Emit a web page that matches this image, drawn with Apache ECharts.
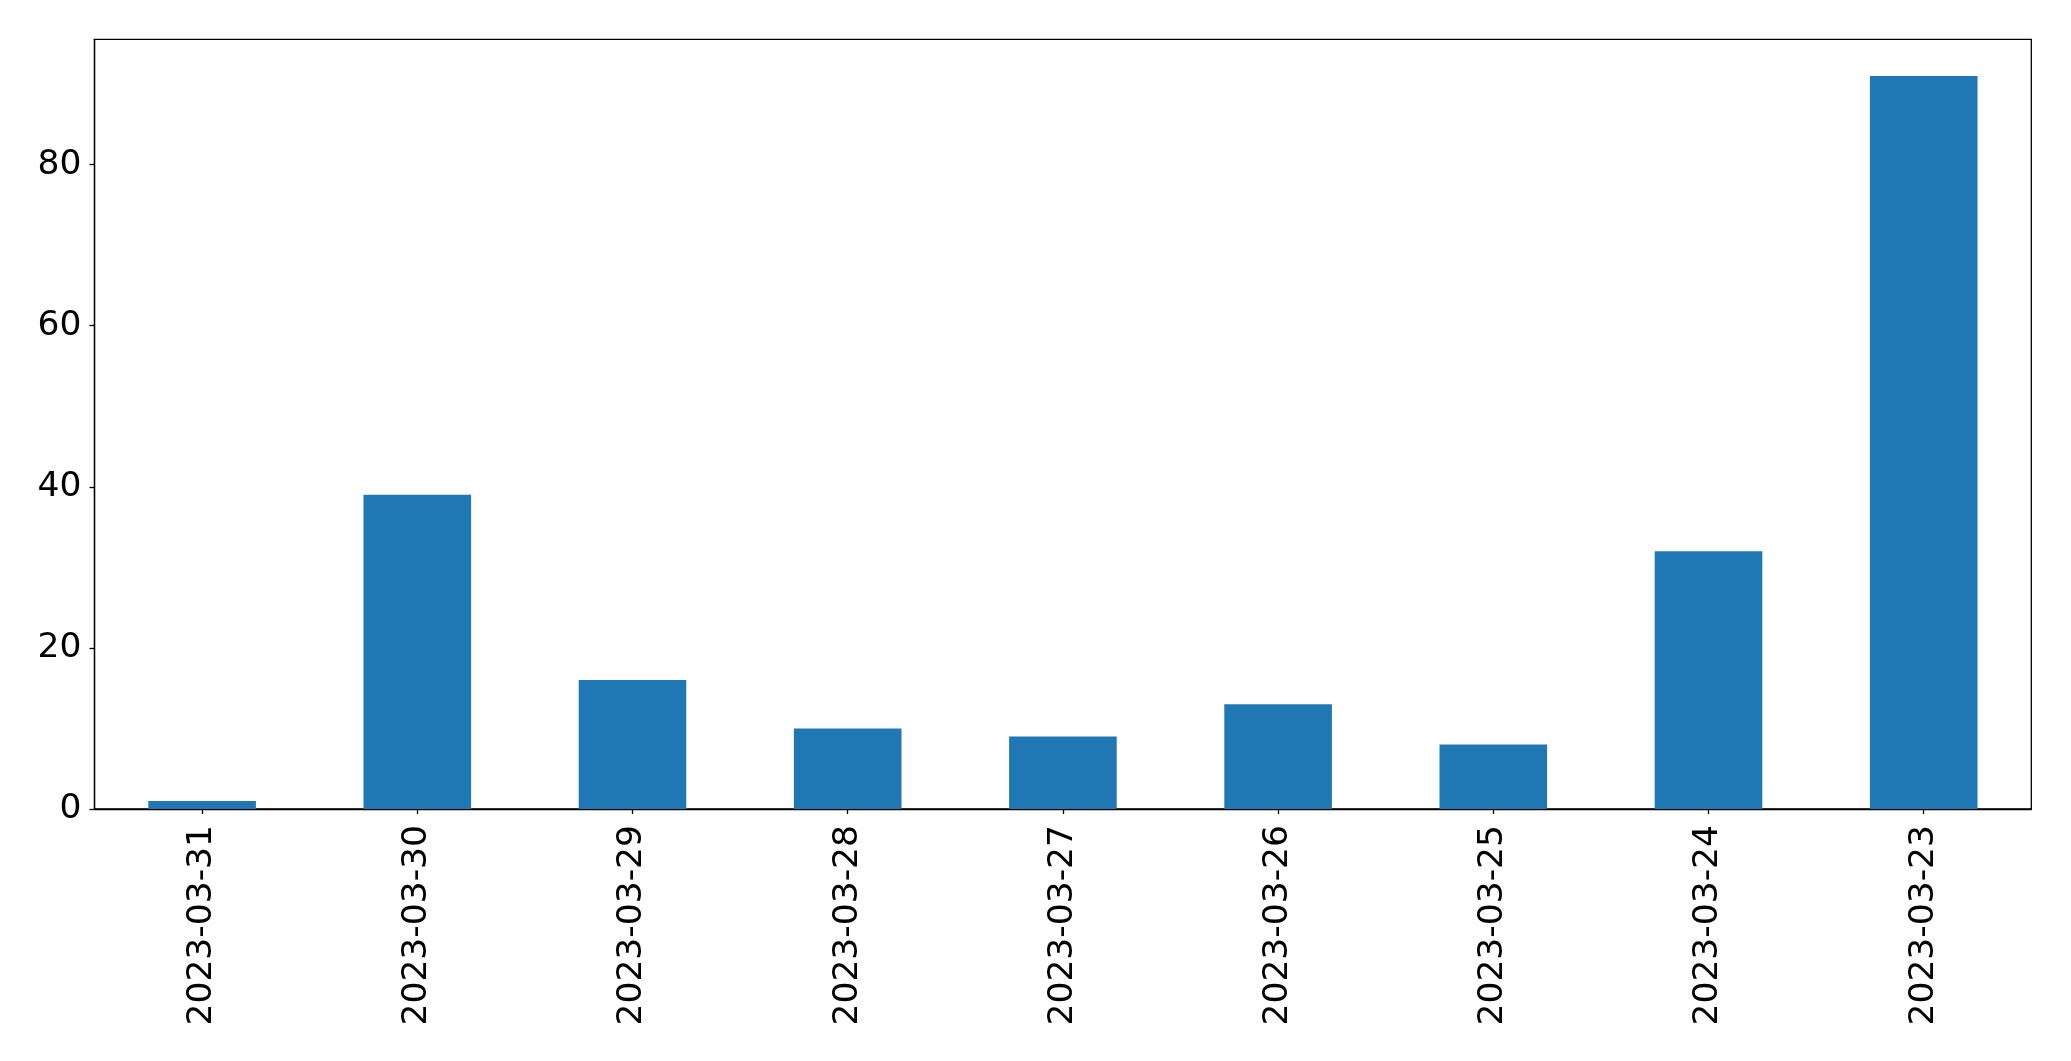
<!DOCTYPE html>
<html>
<head>
<meta charset="utf-8">
<script src="https://cdn.jsdelivr.net/npm/echarts@6/dist/echarts.min.js"></script>
<style>
html,body{margin:0;padding:0;background:#fff;}
#chart{width:2071px;height:1061px;}
</style>
</head>
<body>
<div id="chart"></div>
<script>
const categories = ["2023-03-31","2023-03-30","2023-03-29","2023-03-28","2023-03-27","2023-03-26","2023-03-25","2023-03-24","2023-03-23"];
const values = [1, 39, 16, 10, 9, 13, 8, 32, 91];
const yTicks = [0, 20, 40, 60, 80];
const yMax = 95.55;

const chart = echarts.init(document.getElementById('chart'), null, {renderer: 'canvas'});
chart.setOption({
  animation: false,
  backgroundColor: '#ffffff',
  textStyle: {fontFamily: 'DejaVu Sans'},
  grid: {
    left: 94.5, right: 39.7, top: 39.3, bottom: 252,
    show: true, borderColor: '#000', borderWidth: 1.3, backgroundColor: 'transparent',
    containLabel: false
  },
  xAxis: {
    type: 'category',
    data: categories,
    axisLine: {show: true, lineStyle: {color: '#000', width: 1.3}},
    axisTick: {show: true, alignWithLabel: true, length: 5, lineStyle: {color: '#000', width: 1.3}},
    axisLabel: {
      rotate: 90, fontSize: 34.5, color: '#000', margin: 16, interval: 0,
      fontFamily: 'DejaVu Sans'
    },
    splitLine: {show: false}
  },
  yAxis: {
    type: 'value',
    min: 0, max: yMax, interval: 20,
    axisLine: {show: true, lineStyle: {color: '#000', width: 1.3}},
    axisTick: {show: true, length: 5, lineStyle: {color: '#000', width: 1.3}, customValues: yTicks},
    axisLabel: {fontSize: 34.5, color: '#000', margin: 13, fontFamily: 'DejaVu Sans', customValues: yTicks},
    splitLine: {show: false}
  },
  series: [{
    type: 'bar',
    data: values,
    barWidth: '50%',
    itemStyle: {color: '#1f77b4'}
  }]
});
</script>
</body>
</html>
